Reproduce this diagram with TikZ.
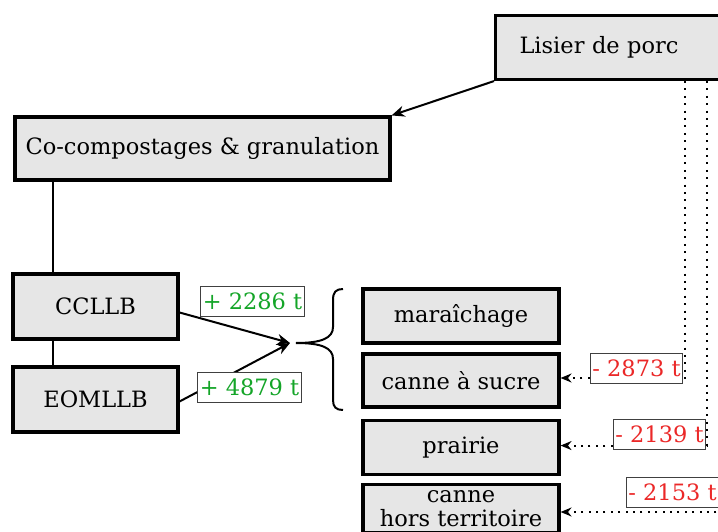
\documentclass[tikz,border=0pt]{standalone}
\usepackage{fontspec}
\setmainfont{DejaVu Serif}
\usetikzlibrary{arrows.meta}
\definecolor{boxgray}{RGB}{230,230,230}
\definecolor{plusgreen}{RGB}{20,165,40}
\definecolor{minusred}{RGB}{235,40,40}
\tikzset{
  mainbox/.style={draw=black, line width=3.1pt, fill=boxgray, inner sep=0pt, align=center,
    font=\fontsize{22.5}{24.5}\selectfont},
  qlabel/.style={draw=black!75, line width=0.8pt, fill=white, inner xsep=2pt, inner ysep=3pt,
    text height=20pt, text depth=4pt, font=\fontsize{22.5}{24}\selectfont},
  pluslab/.style={qlabel, text=plusgreen},
  minuslab/.style={qlabel, text=minusred},
  flow/.style={line width=2pt, -{Stealth[length=13pt,width=11pt]}},
  link/.style={line width=1.6pt},
  dotflow/.style={line width=2pt, dash pattern=on 2pt off 5.4pt, -{Stealth[length=11pt,width=9pt]}},
  bracestyle/.style={line width=2pt},
}
\begin{document}
\begin{tikzpicture}[x=1pt,y=-1pt]
\useasboundingbox (0,0) rectangle (718,532);
% boxes
\node[mainbox, anchor=north west, minimum height=64, text width=210, align=left, inner xsep=24]
  (lisier) at (494,14) {Lisier de porc};
\node[mainbox, minimum width=375, minimum height=63] (cocomp) at (202.5,148.5) {Co-compostages \& granulation};
\node[mainbox, minimum width=165, minimum height=65] (ccllb) at (95.5,306.5) {CCLLB};
\node[mainbox, minimum width=165, minimum height=65] (eomllb) at (95.5,399.5) {EOMLLB};
\node[mainbox, minimum width=196, minimum height=54] (mara) at (461,316) {maraîchage};
\node[mainbox, minimum width=196, minimum height=53] (canne) at (461,380.5) {canne à sucre};
\node[mainbox, anchor=north, minimum width=196, minimum height=54] (prairie) at (461,419) {prairie};
\node[mainbox, anchor=north, minimum width=196, minimum height=48] (chors) at (461,483)
  {canne\\hors territoire};
% helper coordinates
\coordinate (vx) at (53,0);
\coordinate (tip) at (290,343);
\coordinate (d1) at (685,0);
\coordinate (d2) at (707,0);
\coordinate (d3) at (722,0);
\coordinate (h3) at (0,512);
% connectors
\draw[flow] (lisier.south west) -- (cocomp.north east);
\draw[link] (cocomp.south -| vx) -- (ccllb.north -| vx);
\draw[link] (ccllb.south -| vx) -- (eomllb.north -| vx);
\draw[flow] ([yshift=-6pt]ccllb.east) -- (tip);
\draw[flow] ([yshift=-2pt]eomllb.east) -- (tip);
% brace
\draw[bracestyle] (343,289) .. controls (336,289) and (333,292) .. (333,300)
  -- (333,327) .. controls (333,338) and (322,343) .. (296,343)
  .. controls (322,343) and (333,348) .. (333,359)
  -- (333,400) .. controls (333,407) and (336,410) .. (343,410);
% quantity labels
\node[pluslab] (q1) at (252.5,301.5) {+ 2286 t};
\node[pluslab] (q2) at (249.5,387.5) {+ 4879 t};
% dotted flows
\draw[dotflow] (lisier.south -| d1) |- ([yshift=2.5pt]canne.east);
\draw[dotflow] (lisier.south -| d2) |- ([yshift=2pt]prairie.east);
\draw[dotflow] (lisier.south -| d3) |- (chors.east |- h3);
\node[minuslab, anchor=south east] (m1) at (683,384) {- 2873 t};
\node[minuslab, anchor=south east] (m2) at (706,450) {- 2139 t};
\node[minuslab, anchor=south east] (m3) at (719,508) {- 2153 t};
\end{tikzpicture}
\end{document}
